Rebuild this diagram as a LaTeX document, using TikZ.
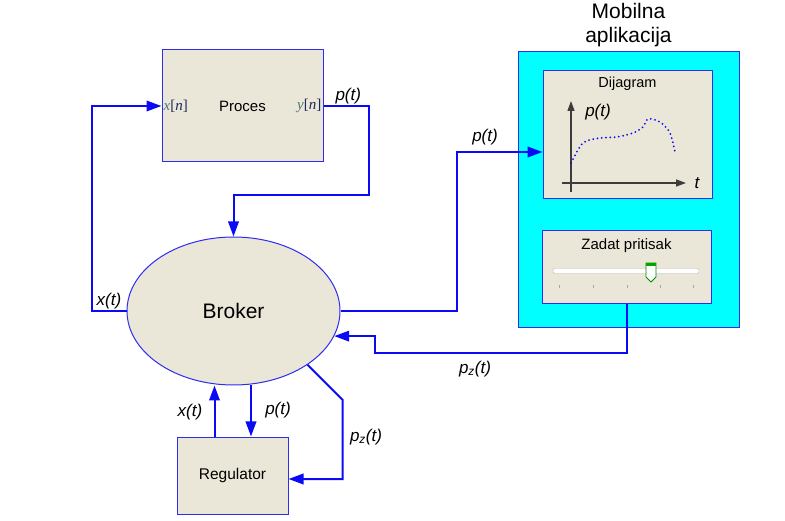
\documentclass[tikz,border=0pt]{standalone}
\usepackage{fontspec}
\setmainfont{Liberation Sans}
\newfontfamily\sigserif{Liberation Serif}
\usetikzlibrary{arrows.meta,positioning,shapes.geometric}
\definecolor{bx-fill}{RGB}{234,230,216}
\definecolor{bx-line}{RGB}{45,45,240}
\definecolor{wireblue}{RGB}{10,10,245}
\definecolor{app-cyan}{RGB}{0,255,255}
\definecolor{sig-teal}{RGB}{78,118,118}
\definecolor{sig-navy}{RGB}{30,40,95}
\definecolor{axis-gray}{RGB}{60,60,60}

\begin{document}
\begin{tikzpicture}[x=1pt, y=-1pt, >={Triangle[length=15pt,width=10.5pt]},
    blok/.style={draw=bx-line, fill=bx-fill, line width=1pt, inner sep=0pt},
    wire/.style={draw=wireblue, line width=2pt},
    sig/.style={font=\fontsize{17}{17}\selectfont\itshape, inner sep=1pt},
    io/.style={font=\fontsize{15}{15}\selectfont\sigserif, inner sep=2pt},
    osa/.style={draw=axis-gray, line width=1.3pt, -{Triangle[length=10pt,width=7pt]}}]
    \useasboundingbox (0,0) rectangle (785,521);

    % blocks
    \node[blok, minimum width=161pt, minimum height=112pt] (proc) at (242.5,106) {\fontsize{15}{15}\selectfont Proces};
    \node[io, anchor=west] (xn) at (proc.west) {{\color{sig-teal}\textit{x}}{\color{sig-navy}[\textit{n}]}};
    \node[io, anchor=east] (yn) at (proc.east) {{\color{sig-teal}\textit{y}}{\color{sig-navy}[\textit{n}]}};
    \node[blok, ellipse, minimum width=213pt, minimum height=148pt] (broker) at (233.5,311) {\fontsize{21}{21}\selectfont Broker};
    \node[blok, minimum width=111pt, minimum height=77pt] (reg) at (232.5,475.5) {\fontsize{15.5}{15.5}\selectfont Regulator};

    % mobile app
    \node[draw=bx-line, fill=app-cyan, line width=1pt, minimum width=221pt, minimum height=276pt] (app) at (628.5,190) {};
    \node[above=4.5pt of app, inner sep=0pt, align=center, font=\fontsize{21}{24}\selectfont] (apptitle) {Mobilna\\aplikacija};
    \node[blok, minimum width=169pt, minimum height=128pt] (diag) at (627.5,135) {};
    \node[below=6pt of diag.north, inner sep=0pt, font=\fontsize{14.5}{14.5}\selectfont] (diagtitle) {Dijagram};
    \draw[osa] (571,192) -- (571,101);
    \draw[osa] (562,183) -- (686,183);
    \node[sig] (axt) at (697,183) {t};
    \node[sig] (axp) at (598,112) {p(t)};
    \draw[wire, line width=2pt, dash pattern=on 0pt off 4.3pt, line cap=round] plot[smooth] coordinates
        {(571,163) (583,143) (600,138) (617,137) (633,133) (643,127) (648,119) (660,122) (670,133) (675,152)};

    \node[blok, minimum width=169pt, minimum height=73pt] (zadat) at (626.5,267.5) {};
    \node[below=8pt of zadat.north, inner sep=0pt, font=\fontsize{15}{15}\selectfont] (zadattitle) {Zadat pritisak};
    \draw[fill=white, draw=gray!55, rounded corners=2pt] (553,268.5) rectangle (699,273.5);
    \foreach \tx in {559,593,627,660,693}
        \draw[gray!70, line width=0.8pt] (\tx,285) -- (\tx,288);
    \draw[fill=white, draw=green!55!black, line width=0.9pt] (646,263) -- (656,263) -- (656,277) -- (651,282) -- (646,277) -- cycle;
    \fill[green!65!black] (646,263) rectangle (656,266.5);

    % connectors
    \draw[wire,->] (broker.west) -- node[sig, above] (lx1) {x(t)} ++(-35,0) |- (proc.west);
    \draw[wire,->] (proc.east) -- node[sig, above, pos=0.55] (lp1) {p(t)} ++(45,0) -- ++(0,89) -| (broker.north);
    \draw[wire,->] (broker.east) -- ++(116,0) |- ([yshift=-17pt]diag.west);
    \node[sig] (lp2) at (485,137) {p(t)};
    \draw[wire,->] (zadat.south) -- ++(0,49) -- ++(-251.5,0) |- (broker.-14.6);
    \node[sig] (lpz1) at (475,369) {p\textsubscript{z}(t)};
    \draw[wire,->] ([xshift=-18pt]reg.north) -- ([xshift=-18pt]reg.north |- broker.south);
    \draw[wire,->] ([xshift=18.5pt]reg.north |- broker.south) -- ([xshift=18.5pt]reg.north);
    \node[sig] (lx2) at (190,412) {x(t)};
    \node[sig] (lp3) at (278,410) {p(t)};
    \draw[wire,->] (broker.-36) -- ++(35,35) |- ([yshift=-3.5pt]reg.east);
    \node[sig] (lpz2) at (366,437) {p\textsubscript{z}(t)};
\end{tikzpicture}
\end{document}
